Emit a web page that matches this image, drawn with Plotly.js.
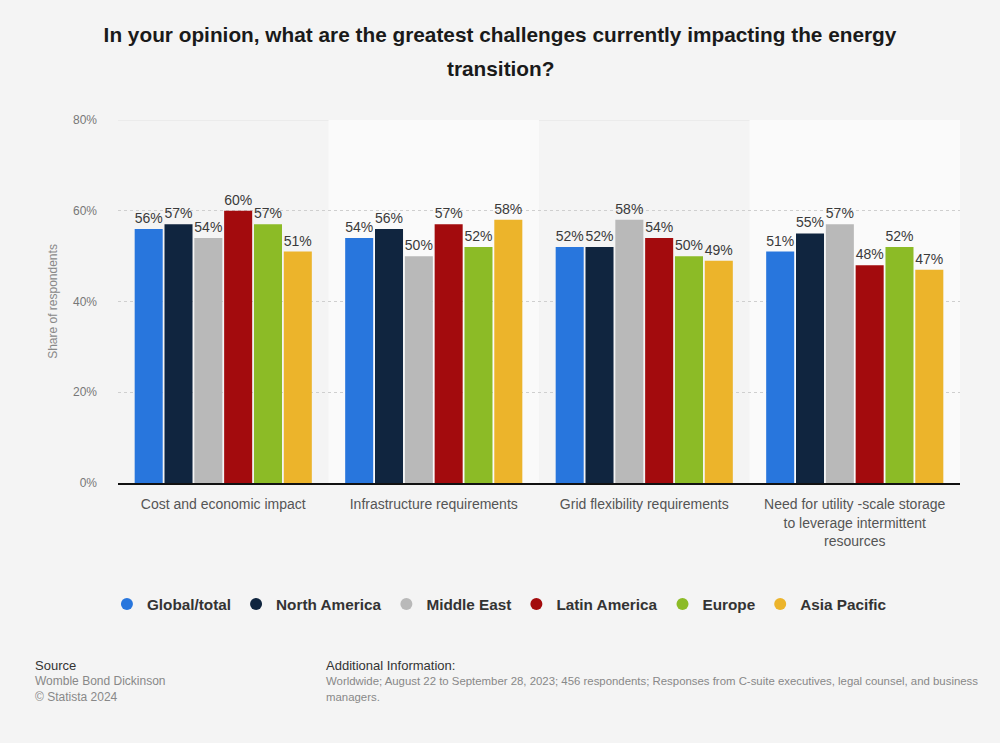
<!DOCTYPE html>
<html>
<head>
<meta charset="utf-8">
<script src="https://cdn.plot.ly/plotly-3.0.1.min.js"></script>
<style>
html,body{margin:0;padding:0;background:#f4f4f4;}
#chart{width:1000px;height:743px;}
</style>
</head>
<body>
<div id="chart"></div>
<script>
const categories = [
  "Cost and economic impact",
  "Infrastructure requirements",
  "Grid flexibility requirements",
  "Need for utility -scale storage<br>to leverage intermittent<br>resources"
];
const seriesNames = ["Global/total", "North America", "Middle East", "Latin America", "Europe", "Asia Pacific"];
const globalTotal  = [56, 54, 52, 51];
const northAmerica = [57, 56, 52, 55];
const middleEast   = [54, 50, 58, 57];
const latinAmerica = [60, 57, 54, 48];
const europe       = [57, 52, 50, 52];
const asiaPacific  = [51, 58, 49, 47];
const seriesValues = [globalTotal, northAmerica, middleEast, latinAmerica, europe, asiaPacific];
const colors = ["#2876dd", "#10253f", "#b9b9b9", "#a30b0d", "#8cbb26", "#ecb42b"];
const yTicks = [0, 20, 40, 60, 80];
const yTickLabels = ["0%", "20%", "40%", "60%", "80%"];

const font = "'Liberation Sans', Arial, sans-serif";
const traces = [];
seriesValues.forEach((vals, i) => {
  traces.push({
    type: "bar",
    name: seriesNames[i],
    x: categories,
    y: vals,
    marker: {color: colors[i]},
    text: vals.map(v => v + "%"),
    textposition: "outside",
    textfont: {family: font, size: 14, color: "#3a3a3a"},
    constraintext: "none",
    cliponaxis: false,
    showlegend: false,
    hoverinfo: "skip"
  });
});
seriesValues.forEach((vals, i) => {
  traces.push({
    type: "scatter",
    mode: "markers",
    name: seriesNames[i],
    x: [null],
    y: [null],
    marker: {color: colors[i], size: 15, symbol: "circle"},
    showlegend: true
  });
});

const shapes = [
  {type: "rect", xref: "x", yref: "y", x0: 0.5, x1: 1.5, y0: 0, y1: 80, fillcolor: "#fafafa", line: {width: 0}, layer: "below"},
  {type: "rect", xref: "x", yref: "y", x0: 2.5, x1: 3.5, y0: 0, y1: 80, fillcolor: "#fafafa", line: {width: 0}, layer: "below"},
  {type: "line", xref: "paper", yref: "y", x0: 0, x1: 1, y0: 80, y1: 80, line: {color: "#e2e2e2", width: 1}, layer: "below"}
];

// paper-coordinate helpers (plot area: x 118..960, y 120..483)
const px = x => (x - 118) / 842;
const py = y => (483 - y) / 363;

const layout = {
  width: 1000,
  height: 743,
  paper_bgcolor: "#f4f4f4",
  plot_bgcolor: "#f4f4f4",
  margin: {l: 118, r: 40, t: 120, b: 260},
  title: {
    text: "<b>In your opinion, what are the greatest challenges currently impacting the energy</b>",
    font: {family: font, size: 20.8, color: "#1a1a1a"},
    x: 0.5, xanchor: "center", y: 1 - 35 / 743, yanchor: "middle"
  },
  barmode: "group",
  bargap: 0.15,
  bargroupgap: 0.06,
  showlegend: true,
  legend: {
    orientation: "h",
    x: 0.453, xanchor: "center",
    y: py(604), yanchor: "middle",
    font: {family: font, size: 15.3, color: "#333", weight: "bold"},
    itemsizing: "constant",
    bgcolor: "rgba(0,0,0,0)",
    tracegroupgap: 0
  },
  xaxis: {
    type: "category",
    tickfont: {family: font, size: 14, color: "#555"},
    showline: true,
    linecolor: "#111",
    linewidth: 1.5,
    ticks: "",
    ticklabelstandoff: 8,
    showgrid: false,
    zeroline: false,
    fixedrange: true
  },
  yaxis: {
    range: [0, 80],
    tickvals: yTicks,
    ticktext: yTickLabels,
    tickfont: {family: font, size: 12, color: "#777"},
    showgrid: true,
    gridcolor: "#cfcfcf",
    griddash: "dot",
    gridwidth: 1,
    zeroline: false,
    ticks: "",
    ticklabelstandoff: 20,
    title: {text: "Share of respondents", font: {family: font, size: 12, color: "#888"}, standoff: 12},
    fixedrange: true
  },
  shapes: shapes,
  annotations: [
    {text: "<b>transition?</b>", xref: "paper", yref: "paper", x: px(500), y: py(68), xanchor: "center", yanchor: "middle", showarrow: false, font: {family: font, size: 20.8, color: "#1a1a1a"}},
    {text: "Source", xref: "paper", yref: "paper", x: px(33), y: py(665), xanchor: "left", yanchor: "middle", showarrow: false, font: {family: font, size: 13, color: "#333"}},
    {text: "Womble Bond Dickinson", xref: "paper", yref: "paper", x: px(33), y: py(681), xanchor: "left", yanchor: "middle", showarrow: false, font: {family: font, size: 12, color: "#888"}},
    {text: "© Statista 2024", xref: "paper", yref: "paper", x: px(33), y: py(697), xanchor: "left", yanchor: "middle", showarrow: false, font: {family: font, size: 12, color: "#888"}},
    {text: "Additional Information:", xref: "paper", yref: "paper", x: px(324), y: py(665), xanchor: "left", yanchor: "middle", showarrow: false, font: {family: font, size: 13, color: "#333"}},
    {text: "Worldwide; August 22 to September 28, 2023; 456 respondents; Responses from C-suite executives, legal counsel, and business", xref: "paper", yref: "paper", x: px(324), y: py(681), xanchor: "left", yanchor: "middle", showarrow: false, font: {family: font, size: 11.4, color: "#888"}},
    {text: "managers.", xref: "paper", yref: "paper", x: px(324), y: py(697), xanchor: "left", yanchor: "middle", showarrow: false, font: {family: font, size: 11.4, color: "#888"}}
  ]
};

Plotly.newPlot("chart", traces, layout, {displayModeBar: false, staticPlot: true});
</script>
</body>
</html>
